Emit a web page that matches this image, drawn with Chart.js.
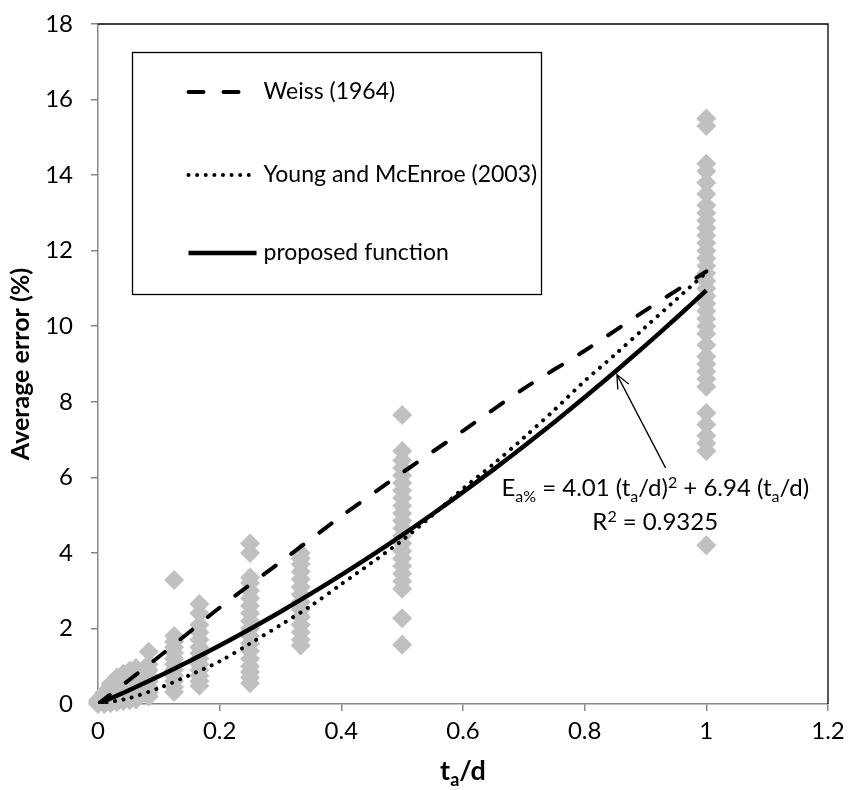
<!DOCTYPE html>
<html>
<head>
<meta charset="utf-8">
<script src="https://cdn.jsdelivr.net/npm/chart.js@4.4.1/dist/chart.umd.min.js"></script>
<style>
  html, body { margin: 0; padding: 0; background: #fff; }
</style>
</head>
<body>
<canvas id="chart" width="850" height="790"></canvas>
<script>
// measured points, grouped by t_a/d column
var colX = [0, 0.0104, 0.0208, 0.03125, 0.0417, 0.0521, 0.0625, 0.0833, 0.125, 0.1667, 0.25, 0.3333, 0.5, 1];
var colValues = [
  [0, 0.05, 0.1],
  [0, 0.05, 0.1, 0.15, 0.2, 0.3],
  [0.02, 0.08, 0.15, 0.22, 0.3, 0.4, 0.53],
  [0.05, 0.12, 0.2, 0.3, 0.4, 0.5, 0.6, 0.7],
  [0.08, 0.15, 0.25, 0.35, 0.45, 0.55, 0.65, 0.8],
  [0.1, 0.2, 0.3, 0.4, 0.5, 0.6, 0.75, 0.88],
  [0.12, 0.25, 0.35, 0.5, 0.6, 0.75, 0.95],
  [0.2, 0.3, 0.45, 0.6, 0.75, 0.9, 1.05, 1.38],
  [0.32, 0.45, 0.6, 0.75, 0.9, 1.05, 1.2, 1.35, 1.5, 1.65, 1.8, 3.28],
  [0.48, 0.6, 0.75, 0.9, 1.05, 1.2, 1.35, 1.5, 1.7, 1.9, 2.1, 2.4, 2.65],
  [0.55, 0.7, 0.85, 1.0, 1.2, 1.4, 1.6, 1.8, 2.0, 2.2, 2.4, 2.6, 2.8, 3.0, 3.2, 3.35, 4.0, 4.25],
  [1.55, 1.7, 1.9, 2.1, 2.3, 2.5, 2.7, 2.9, 3.1, 3.3, 3.5, 3.7, 3.85, 4.0],
  [1.57, 2.27, 3.05, 3.25, 3.45, 3.65, 3.85, 4.05, 4.25, 4.45, 4.65, 4.85, 5.05, 5.25, 5.45, 5.65, 5.85, 6.05, 6.25, 6.45, 6.7, 7.65],
  [4.2, 6.7, 6.9, 7.1, 7.4, 7.7, 8.4, 8.6, 8.8, 9.0, 9.2, 9.5, 9.8, 10.0, 10.2, 10.4, 10.6, 10.8, 11.0, 11.2, 11.4, 11.6, 11.8, 12.0, 12.2, 12.4, 12.6, 12.8, 13.0, 13.2, 13.5, 13.8, 14.1, 14.3, 15.3, 15.5]
];

// curves
var weissX = [0, 0.1, 0.2, 0.3, 0.4, 0.5, 0.6, 0.7, 0.8, 0.9, 1];
var weissY = [0, 1.25, 2.55, 3.76, 4.97, 6.12, 7.23, 8.35, 9.35, 10.42, 11.45];
var curveX = [0, 0.05, 0.1, 0.15, 0.2, 0.25, 0.3, 0.35, 0.4, 0.45, 0.5, 0.55, 0.6, 0.65, 0.7, 0.75, 0.8, 0.85, 0.9, 0.95, 1];
var youngY = [0, 0.15, 0.42, 0.76, 1.13, 1.6, 2.09, 2.6, 3.17, 3.74, 4.33, 5.0, 5.7, 6.35, 7.05, 7.78, 8.55, 9.25, 9.98, 10.7, 11.42];
var proposedY = [0, 0.357, 0.734, 1.131, 1.548, 1.986, 2.443, 2.92, 3.418, 3.935, 4.473, 5.03, 5.608, 6.205, 6.823, 7.461, 8.118, 8.796, 9.494, 10.212, 10.95];

var xTicks = [0, 0.2, 0.4, 0.6, 0.8, 1, 1.2];
var yTicks = [0, 2, 4, 6, 8, 10, 12, 14, 16, 18];

var FONT = 'Lato, "Open Sans", sans-serif';

function pairs(xs, ys) {
  var out = [];
  for (var i = 0; i < xs.length; i++) out.push({x: xs[i], y: ys[i]});
  return out;
}

var scatterPts = [];
colX.forEach(function(x, i) {
  colValues[i].forEach(function(v) { scatterPts.push({x: x, y: v}); });
});

// draw text made of normal / sub / sup pieces, centred on cx
function richText(ctx, pieces, cx, cy, size, weight) {
  var small = Math.round(size * 0.68);
  var total = 0;
  pieces.forEach(function(p) {
    ctx.font = weight + ' ' + (p[1] ? small : size) + 'px ' + FONT;
    p.w = ctx.measureText(p[0]).width;
    total += p.w;
  });
  var x = cx - total / 2;
  ctx.textAlign = 'left';
  ctx.textBaseline = 'alphabetic';
  pieces.forEach(function(p) {
    ctx.font = weight + ' ' + (p[1] ? small : size) + 'px ' + FONT;
    var dy = 0;
    if (p[1] == 'sub') dy = size * 0.22;
    if (p[1] == 'sup') dy = -size * 0.36;
    ctx.fillText(p[0], x, cy + size * 0.35 + dy);
    x += p.w;
  });
}

var extras = {
  id: 'extras',
  beforeDatasetsDraw: function(chart) {
    var ctx = chart.ctx, a = chart.chartArea;
    ctx.save();
    ctx.strokeStyle = '#000';
    ctx.lineWidth = 1.3;
    ctx.beginPath();
    ctx.moveTo(a.left, a.top);
    ctx.lineTo(a.right, a.top);
    ctx.lineTo(a.right, a.bottom);
    ctx.stroke();
    ctx.restore();
  },
  afterDatasetsDraw: function(chart) {
    var ctx = chart.ctx, a = chart.chartArea;
    var xs = chart.scales.x, ys = chart.scales.y;
    ctx.save();

    // legend box
    var bx = a.left + 34.5, by = a.top + 28.5, bw = 409, bh = 242;
    ctx.fillStyle = '#fff';
    ctx.fillRect(bx, by, bw, bh);
    ctx.strokeStyle = '#000';
    ctx.lineWidth = 1.3;
    ctx.strokeRect(bx, by, bw, bh);
    var rows = [39.5, 122.5, 200.5];
    var lines = chart.data.datasets.slice(1);
    lines.forEach(function(ds, i) {
      var y = by + rows[i];
      ctx.save();
      ctx.strokeStyle = ds.borderColor;
      ctx.lineWidth = ds.borderWidth;
      ctx.lineCap = ds.borderCapStyle || 'butt';
      ctx.setLineDash(ds.borderDash || []);
      ctx.beginPath();
      ctx.moveTo(bx + 56, y);
      ctx.lineTo(bx + 124, y);
      ctx.stroke();
      ctx.restore();
      ctx.fillStyle = '#000';
      ctx.font = '23px ' + FONT;
      ctx.textAlign = 'left';
      ctx.textBaseline = 'middle';
      ctx.fillText(ds.label, bx + 131, y);
    });

    // arrow pointing at fitted curve
    var tipX = xs.getPixelForValue(0.853), tipY = ys.getPixelForValue(8.72);
    var tailX = xs.getPixelForValue(0.933), tailY = ys.getPixelForValue(6.25);
    ctx.strokeStyle = '#000';
    ctx.lineWidth = 1.3;
    ctx.beginPath();
    ctx.moveTo(tailX, tailY);
    ctx.lineTo(tipX, tipY);
    var ang = Math.atan2(tipY - tailY, tipX - tailX);
    var hl = 15, spread = 0.42;
    ctx.moveTo(tipX - hl * Math.cos(ang - spread), tipY - hl * Math.sin(ang - spread));
    ctx.lineTo(tipX, tipY);
    ctx.lineTo(tipX - hl * Math.cos(ang + spread), tipY - hl * Math.sin(ang + spread));
    ctx.stroke();

    // equation
    ctx.fillStyle = '#000';
    var cx = xs.getPixelForValue(0.916);
    richText(ctx, [['E'], ['a%', 'sub'], [' = 4.01 (t'], ['a', 'sub'], ['/d)'], ['2', 'sup'],
      [' + 6.94 (t'], ['a', 'sub'], ['/d)']], cx, ys.getPixelForValue(5.72), 24, 'normal');
    richText(ctx, [['R'], ['2', 'sup'], [' = 0.9325']], cx, ys.getPixelForValue(4.82), 24, 'normal');

    // x axis title
    richText(ctx, [['t'], ['a', 'sub'], ['/d']], (a.left + a.right) / 2, 771, 27, 'bold');

    ctx.restore();
  }
};

new Chart(document.getElementById('chart'), {
  type: 'scatter',
  data: {
    datasets: [
      {
        label: 'data',
        data: scatterPts,
        pointStyle: 'rectRot',
        pointRadius: 10,
        pointHoverRadius: 10,
        backgroundColor: '#c0c0c0',
        borderWidth: 0,
        clip: false,
        order: 4
      },
      {
        label: 'Weiss (1964)',
        type: 'line',
        data: pairs(weissX, weissY),
        borderColor: '#000',
        borderWidth: 4,
        borderDash: [15, 20],
        borderCapStyle: 'round',
        pointRadius: 0,
        tension: 0.3,
        fill: false,
        order: 3
      },
      {
        label: 'Young and McEnroe (2003)',
        type: 'line',
        data: pairs(curveX, youngY),
        borderColor: '#000',
        borderWidth: 4,
        borderDash: [0.01, 8.6],
        borderCapStyle: 'round',
        pointRadius: 0,
        tension: 0.3,
        fill: false,
        order: 2
      },
      {
        label: 'proposed function',
        type: 'line',
        data: pairs(curveX, proposedY),
        borderColor: '#000',
        borderWidth: 4.5,
        borderCapStyle: 'butt',
        pointRadius: 0,
        tension: 0.3,
        fill: false,
        order: 1
      }
    ]
  },
  options: {
    responsive: false,
    animation: false,
    layout: { padding: { left: 0, top: 24, right: 22, bottom: 0 } },
    plugins: {
      legend: { display: false },
      tooltip: { enabled: false }
    },
    scales: {
      x: {
        type: 'linear',
        min: 0,
        max: 1.2,
        afterFit: function(s) {
          s.height = 86;
          s.paddingLeft = 0;
          s.paddingRight = 0;
        },
        afterBuildTicks: function(s) { s.ticks = xTicks.map(function(v) { return {value: v}; }); },
        ticks: {
          color: '#000',
          padding: 6,
          font: { family: FONT, size: 24 },
          callback: function(v) { return String(+v.toFixed(1)); }
        },
        grid: { drawOnChartArea: false, drawTicks: true, tickLength: 7, color: '#868686', lineWidth: 1.5 },
        border: { color: '#868686', width: 1.5 }
      },
      y: {
        type: 'linear',
        min: 0,
        max: 18,
        afterFit: function(s) {
          s.width = 98;
          s.paddingTop = 0;
          s.paddingBottom = 0;
        },
        afterBuildTicks: function(s) { s.ticks = yTicks.map(function(v) { return {value: v}; }); },
        ticks: {
          color: '#000',
          padding: 18,
          font: { family: FONT, size: 24 }
        },
        title: {
          display: true,
          text: 'Average error (%)',
          color: '#000',
          font: { family: FONT, size: 25, weight: 'bold' },
          padding: { top: 6, bottom: 4 }
        },
        grid: { drawOnChartArea: false, drawTicks: true, tickLength: 7, color: '#868686', lineWidth: 1.5 },
        border: { color: '#868686', width: 1.5 }
      }
    }
  },
  plugins: [extras]
});
</script>
</body>
</html>
